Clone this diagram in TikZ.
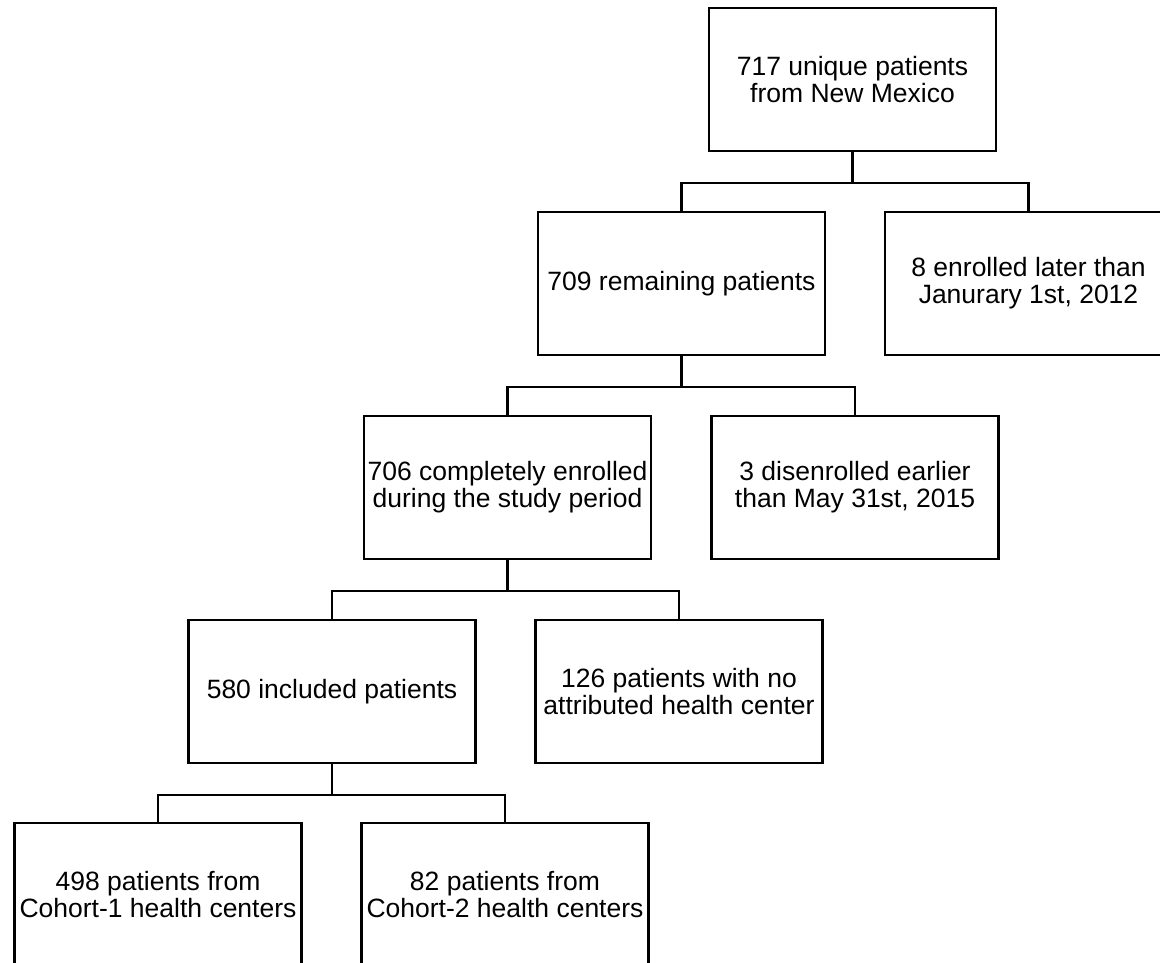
\documentclass[tikz,border=0pt]{standalone}
\usepackage{fontspec}
\setmainfont{Liberation Sans}
\usepackage{tikz}

\begin{document}
\begin{tikzpicture}[x=1pt, y=-1pt,
    box/.style={draw=black, line width=2.6pt, minimum width=287pt, minimum height=143pt,
        inner sep=0pt, align=center, font=\fontsize{26.5}{27}\selectfont},
    link/.style={black, line width=2.6pt}]
    \clip (0,0) rectangle (1160,962);
    % Below nodes are the boxes.
        \node[box] (all) at (852.5, 79.5) {717 unique patients\\from New Mexico};
        \node[box] (remain) at (681.5, 283.5) {709 remaining patients};
        \node[box] (late) at (1028.5, 283.5) {8 enrolled later than\\Janurary 1st, 2012};
        \node[box] (full) at (507.5, 487.5) {706 completely enrolled\\during the study period};
        \node[box] (early) at (855, 487.5) {3 disenrolled earlier\\than May 31st, 2015};
        \node[box] (incl) at (332, 691.5) {580 included patients};
        \node[box] (nohc) at (679, 691.5) {126 patients with no\\attributed health center};
        \node[box] (cohone) at (158, 894.5) {498 patients from\\Cohort-1 health centers};
        \node[box] (cohtwo) at (505, 894.5) {82 patients from\\Cohort-2 health centers};
    % This draws the elbow connectors.
        \draw[link] (all.south) -- ++(0,30.5) -| (remain.north);
        \draw[link] (all.south) -- ++(0,30.5) -| (late.north);
        \draw[link] (remain.south) -- ++(0,30.5) -| (full.north);
        \draw[link] (remain.south) -- ++(0,30.5) -| (early.north);
        \draw[link] (full.south) -- ++(0,30.5) -| (incl.north);
        \draw[link] (full.south) -- ++(0,30.5) -| (nohc.north);
        \draw[link] (incl.south) -- ++(0,30.5) -| (cohone.north);
        \draw[link] (incl.south) -- ++(0,30.5) -| (cohtwo.north);
\end{tikzpicture}
\end{document}
